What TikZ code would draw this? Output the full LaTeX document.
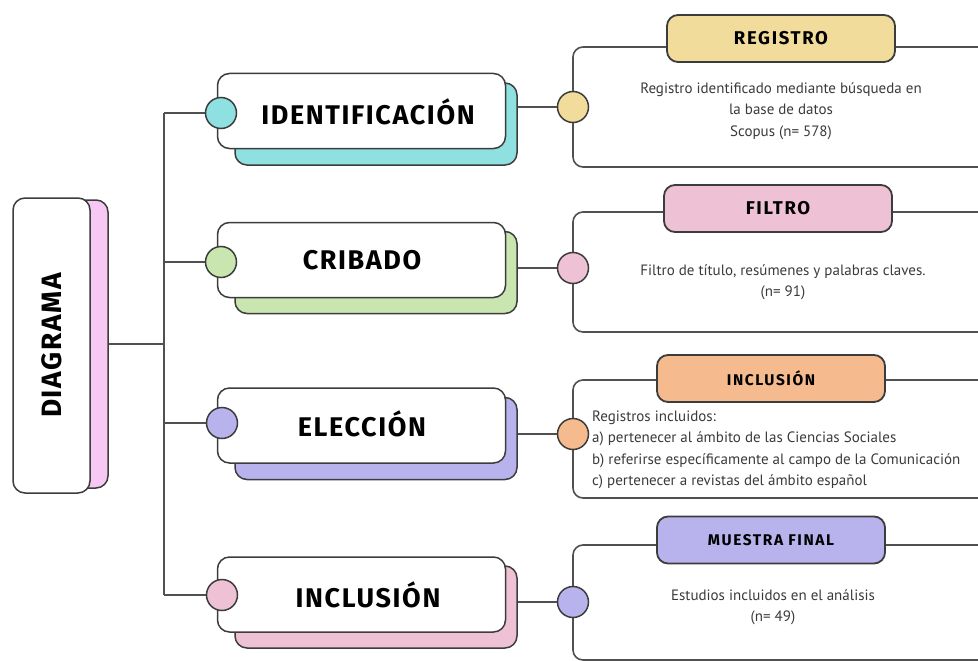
\documentclass[tikz,border=0pt]{standalone}
\usepackage{fontspec}
\setmainfont{PT Sans}
\newfontfamily\headA{Fira Sans}[LetterSpace=6]
\newfontfamily\headB{Fira Sans}[LetterSpace=9]
\newfontfamily\headC{Fira Sans}[LetterSpace=10]
\usetikzlibrary{backgrounds}
\definecolor{linec}{HTML}{505050}
\definecolor{boxc}{HTML}{3C3C3C}
\definecolor{bodyc}{HTML}{3A3A3A}
\definecolor{cteal}{HTML}{8FE0E0}
\definecolor{cgreen}{HTML}{C9E5B0}
\definecolor{cpurple}{HTML}{B8B3EC}
\definecolor{cpink}{HTML}{EFC1D4}
\definecolor{cmag}{HTML}{F8C8F5}
\definecolor{cyellow}{HTML}{F2DC9C}
\definecolor{corange}{HTML}{F5BA8D}
\begin{document}
\begin{tikzpicture}[x=1pt,y=-1pt,
  ln/.style={draw=linec, line width=1.6pt},
  mainbox/.style={draw=boxc, line width=1.5pt, rounded corners=12pt, fill=white,
     minimum width=288pt, minimum height=75pt, inner sep=0pt},
  shbox/.style={draw=boxc, line width=1.5pt, rounded corners=12pt,
     minimum width=282pt, minimum height=82pt, inner sep=0pt},
  dot/.style={circle, draw=boxc, line width=1.5pt, minimum size=31pt, inner sep=0pt},
  head/.style={font=\headA\bfseries\fontsize{27}{27}\selectfont, text=black},
  titlebox/.style={draw=boxc, line width=1.8pt, rounded corners=11pt,
     minimum width=228pt, minimum height=47pt, inner sep=0pt, text=black},
  tbig/.style={font=\headB\bfseries\fontsize{18.5}{18.5}\selectfont},
  tsmall/.style={font=\headC\bfseries\fontsize{15.5}{15.5}\selectfont},
  body/.style={font=\fontsize{15}{21.5}\selectfont, text=bodyc, align=center, inner sep=0pt}]
\useasboundingbox (0,0) rectangle (978,661);
\clip (0,0) rectangle (978,661);
\coordinate (trunk) at (164,0);

% DIAGRAMA
\node[shbox, fill=cmag, minimum width=78pt, minimum height=288pt] (dsh) at (69,344) {};
\node[mainbox, minimum width=77pt, minimum height=295pt] (diag) at (51.5,345.5) {};
\node[head, font=\headA\bfseries\fontsize{28}{28}\selectfont, rotate=90] at (diag.center) {DIAGRAMA};

% main boxes
\node[shbox, fill=cteal] (s1) at (376,124) {};
\node[mainbox] (b1) at (361.5,111) {};
\node[head] at (368,112) {IDENTIFICACIÓN};
\node[shbox, fill=cgreen] (s2) at (376,272.5) {};
\node[mainbox] (b2) at (361.5,260) {};
\node[head] at (362,260) {CRIBADO};
\node[shbox, fill=cpurple] (s3) at (376,438.5) {};
\node[mainbox] (b3) at (361.5,425.5) {};
\node[head] at (362,424) {ELECCIÓN};
\node[shbox, fill=cpink] (s4) at (376,607) {};
\node[mainbox] (b4) at (361.5,594.5) {};
\node[head] at (368,595) {INCLUSIÓN};

% left dots
\node[dot, fill=cteal] (l1) at (221,113) {};
\node[dot, fill=cgreen] (l2) at (221,262) {};
\node[dot, fill=cpurple] (l3) at (222,423) {};
\node[dot, fill=cpink] (l4) at (222,595) {};

% right dots
\node[dot, fill=cyellow] (r1) at (573,107) {};
\node[dot, fill=cpink] (r2) at (573,268) {};
\node[dot, fill=corange] (r3) at (573,434) {};
\node[dot, fill=cpurple] (r4) at (573,602) {};

% titles
\node[titlebox, fill=cyellow, tbig] (t1) at (781,38.5) {REGISTRO};
\node[titlebox, fill=cpink, tbig] (t2) at (778,208.5) {FILTRO};
\node[titlebox, fill=corange, tsmall] (t3) at (771,378.5) {INCLUSIÓN};
\node[titlebox, fill=cpurple, tsmall] (t4) at (771,540) {MUESTRA FINAL};

% texts
\node[body] (x1) at (781,111) {Registro identificado mediante búsqueda en\\la base de datos\\Scopus (n= 578)};
\node[body] (x2) at (783,282) {Filtro de título, resúmenes y palabras claves.\\(n= 91)};
\node[body, align=left, anchor=west] (x3) at (592,450) {Registros incluidos:\\a) pertenecer al ámbito de las Ciencias Sociales\\b) referirse específicamente al campo de la Comunicación\\c) pertenecer a revistas del ámbito español};
\node[body] (x4) at (773,607) {Estudios incluidos en el análisis\\(n= 49)};

\begin{scope}[on background layer]
  \draw[ln] (dsh.east) -- (dsh.east -| trunk);
  \draw[ln] (l1.center -| trunk) -- (l4.center -| trunk);
  \draw[ln] (l1.center -| trunk) -- (l1.center);
  \draw[ln] (l2.center -| trunk) -- (l2.center);
  \draw[ln] (l3.center -| trunk) -- (l3.center);
  \draw[ln] (l4.center -| trunk) -- (l4.center);
  \draw[ln] (r1.center -| s1.east) -- (r1.center);
  \draw[ln] (r2.center -| s2.east) -- (r2.center);
  \draw[ln] (r3.center -| s3.east) -- (r3.center);
  \draw[ln] (r4.center -| s4.east) -- (r4.center);
  % panels
  \draw[ln, rounded corners=10pt] (1000,47) -- (573,47) -- (573,167) -- (1000,167);
  \draw[ln, rounded corners=10pt] (1000,212) -- (573,212) -- (573,332) -- (1000,332);
  \draw[ln, rounded corners=10pt] (1000,380) -- (573,380) -- (573,498) -- (1000,498);
  \draw[ln, rounded corners=10pt] (1000,545) -- (573,545) -- (573,660) -- (1000,660);
\end{scope}
\end{tikzpicture}
\end{document}
